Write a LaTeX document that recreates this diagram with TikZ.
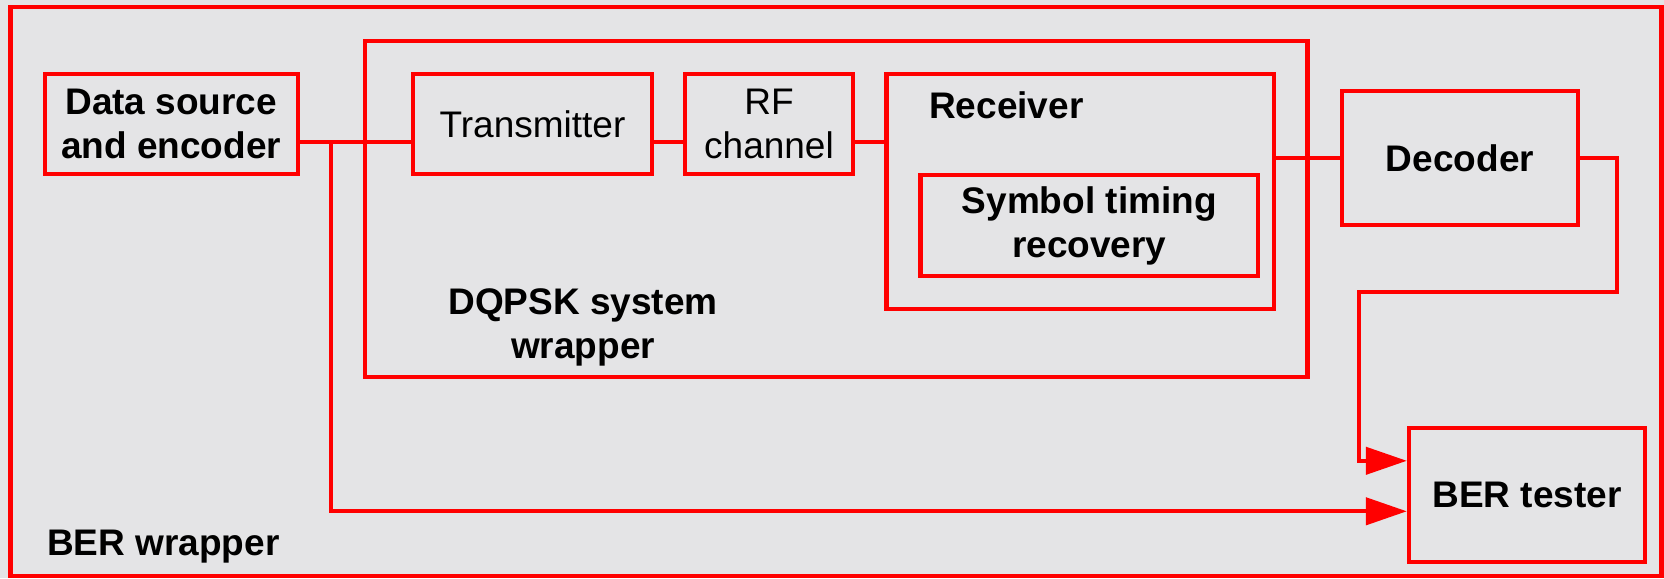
\documentclass[tikz,border=0pt]{standalone}
\usepackage{fontspec}
\setmainfont{Liberation Sans}
\usetikzlibrary{arrows.meta}
\definecolor{marble}{RGB}{228,228,230}
\definecolor{wred}{RGB}{255,0,0}
\begin{document}
\begin{tikzpicture}[x=1pt,y=-1pt,
  box/.style={draw=wred,line width=4.3pt,rectangle,inner sep=0pt,align=center},
  bold/.style={font=\fontsize{37}{44}\selectfont\bfseries},
  plain/.style={font=\fontsize{37}{44}\selectfont},
  wire/.style={draw=wred,line width=4.3pt},
  arr/.style={wire,-{Triangle[length=41pt,width=27pt]}}]
\fill[marble] (0,0) rectangle (1664,578);
\useasboundingbox (0,0) rectangle (1664,578);
% wrappers
\node[box,minimum width=1651pt,minimum height=569pt] (ber_wrap) at (836,291.5) {};
\node[box,minimum width=942.5pt,minimum height=336pt] (dq_wrap) at (836.25,208.7) {};
\node[box,minimum width=387.4pt,minimum height=235pt] (rx) at (1080.3,191.5) {};
% blocks
\node[box,bold,minimum width=253pt,minimum height=100pt] (ds) at (171.2,124) {Data source\\and encoder};
\node[box,plain,minimum width=239pt,minimum height=100pt] (tx) at (532.5,124) {Transmitter};
\node[box,plain,minimum width=168pt,minimum height=100pt] (rf) at (769,124) {RF\\channel};
\node[box,bold,minimum width=337.5pt,minimum height=101pt] (st) at (1089.25,225.5) {Symbol timing\\recovery};
\node[box,bold,minimum width=236pt,minimum height=134pt] (dec) at (1460,158) {Decoder};
\node[box,bold,minimum width=236pt,minimum height=134pt] (ber) at (1527,495) {BER tester};
% labels
\node[bold,anchor=base west,inner sep=0pt] (rxlab) at (929,118) {Receiver};
\node[bold,align=center,inner sep=0pt] (dqlab) at (583,327) {DQPSK system\\wrapper};
\node[bold,anchor=base west,inner sep=0pt] (berlab) at (47,555) {BER wrapper};
% connectors
\coordinate (br) at (331,141.7);
\coordinate (d1) at (1616.7,291.7);
\coordinate (d2) at (1359,291.7);
\draw[wire] ([yshift=-17.7pt]ds.east) -- ([yshift=-17.7pt]tx.west);
\draw[wire] ([yshift=-17.7pt]tx.east) -- ([yshift=-17.7pt]rf.west);
\draw[wire] ([yshift=-17.7pt]rf.east) -- ([yshift=-17.7pt]rf.east -| rx.west);
\draw[wire] (dec.west -| rx.east) -- (dec.west);
\draw[arr] (dec.east) -| (d1) -- (d2) |- ([yshift=34.2pt]ber.west);
\draw[arr] (br) |- ([yshift=-16.3pt]ber.west);
\end{tikzpicture}
\end{document}
